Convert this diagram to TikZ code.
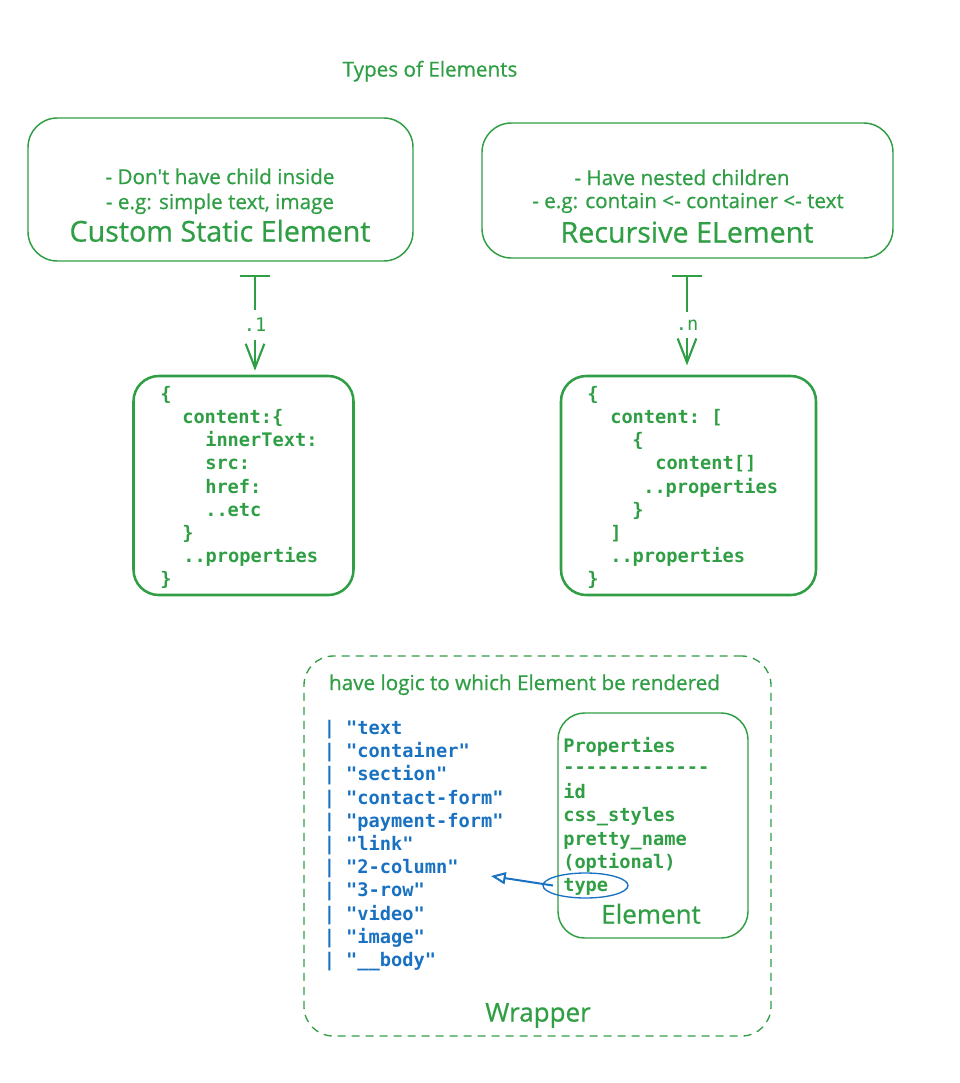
\documentclass[tikz,border=0pt]{standalone}
\usepackage{fontspec}
\setmainfont{Open Sans}
\setmonofont{DejaVu Sans Mono}
\newfontfamily\handfont{Open Sans}[FakeBold=0.7]
\usetikzlibrary{arrows.meta,shapes.geometric,calc}
\definecolor{exgreen}{HTML}{2F9E44}
\definecolor{exblue}{HTML}{1971C2}
\begin{document}
\begin{tikzpicture}[x=0.75pt,y=-0.75pt,
  hand/.style={text=exgreen,inner sep=0pt,anchor=mid,font=\fontsize{15.5pt}{18pt}\handfont},
  handbig/.style={text=exgreen,inner sep=0pt,anchor=mid,font=\fontsize{21.5pt}{24pt}\handfont},
  handmid/.style={text=exgreen,inner sep=0pt,anchor=mid,font=\fontsize{19.5pt}{22pt}\handfont},
  codeline/.style={text=exgreen,inner sep=0pt,anchor=mid west,font=\fontsize{14pt}{17pt}\selectfont\ttfamily\bfseries},
  blueline/.style={codeline,text=exblue},
  thinbox/.style={draw=exgreen,line width=1.1pt,rounded corners=22pt,inner sep=0pt},
  codebox/.style={draw=exgreen,line width=1.9pt,rounded corners=19pt,inner sep=0pt},
  wrapbox/.style={draw=exgreen,line width=1pt,rounded corners=22pt,inner sep=0pt,dash pattern=on 6pt off 4.5pt},
  teearrow/.style={draw=exgreen,line width=1.6pt,arrows={Bar[width=22pt]-Straight Barb[length=18pt,width=14pt]}},
  arrowlabel/.style={fill=white,text=exgreen,inner xsep=2pt,inner ysep=6pt,font=\fontsize{14pt}{17pt}\selectfont\ttfamily},
]
\useasboundingbox (0,0) rectangle (960,1083);

% title
\node[hand] (title) at (430,73) {Types of Elements};

% top boxes
\node[thinbox,minimum width=288.75pt,minimum height=107.25pt] (box1) at (220.5,189.5) {};
\node[hand] (b1l1) at (220,180.5) {- Don't have child inside};
\node[hand] (b1l2) at (220,205.5) {- e.g: simple text, image};
\node[handbig] (b1t) at (220,238) {Custom Static Element};

\node[thinbox,minimum width=308.25pt,minimum height=101.25pt] (box2) at (687.5,190.5) {};
\node[hand] (b2l1) at (682,181.5) {- Have nested children};
\node[hand] (b2l2) at (688,204.5) {- e.g: contain <- container <- text};
\node[handbig] (b2t) at (687,239) {Recursive ELement};

% code boxes
\node[codebox,minimum width=165pt,minimum height=164.25pt] (box3) at (243.5,485.5) {};
\node[codeline] (c3a) at (160,397) {\{};
\node[codeline] (c3b) at (182,420) {content:\{};
\node[codeline] (c3c) at (205,443) {innerText:};
\node[codeline] (c3d) at (205,466) {src:};
\node[codeline] (c3e) at (205,489.5) {href:};
\node[codeline] (c3f) at (205,512.5) {..etc};
\node[codeline] (c3g) at (182,535.5) {\}};
\node[codeline] (c3h) at (183,559) {..properties};
\node[codeline] (c3i) at (160,581.5) {\}};

\node[codebox,minimum width=191.25pt,minimum height=164.25pt] (box4) at (688.5,485.5) {};
\node[codeline] (c4a) at (587,397) {\{};
\node[codeline] (c4b) at (610,420) {content: [};
\node[codeline] (c4c) at (632,443) {\{};
\node[codeline] (c4d) at (655,466) {content[]};
\node[codeline] (c4e) at (643,489.5) {..properties};
\node[codeline] (c4f) at (632,512.5) {\}};
\node[codeline] (c4g) at (610,535.5) {]};
\node[codeline] (c4h) at (610,559) {..properties};
\node[codeline] (c4i) at (587,581.5) {\}};

% tee arrows
\coordinate (t1) at (255,275);
\draw[teearrow,shorten >=3pt] (t1) -- (t1 |- box3.north) node[arrowlabel,midway] (l1) {.1};
\coordinate (t2) at (687,275);
\draw[teearrow,shorten >=7pt] (t2) -- (t2 |- box4.north) node[arrowlabel,midway] (l2) {.n};

% wrapper
\node[wrapbox,minimum width=350.25pt,minimum height=285pt] (wrap) at (537.5,846) {};
\node[hand] (wrapnote) at (524.5,686.5) {have logic to which Element be rendered};
\node[handmid] (wraptitle) at (538,1018) {Wrapper};

% blue list
\node[blueline] (v1) at (323.5,731) {| "text};
\node[blueline] (v2) at (323.5,754.2) {| "container"};
\node[blueline] (v3) at (323.5,777.4) {| "section"};
\node[blueline] (v4) at (323.5,800.6) {| "contact-form"};
\node[blueline] (v5) at (323.5,823.8) {| "payment-form"};
\node[blueline] (v6) at (323.5,847) {| "link"};
\node[blueline] (v7) at (323.5,870.2) {| "2-column"};
\node[blueline] (v8) at (323.5,893.4) {| "3-row"};
\node[blueline] (v9) at (323.5,916.6) {| "video"};
\node[blueline] (v10) at (323.5,939.8) {| "image"};
\node[blueline] (v11) at (323.5,963) {| "\_\_body"};

% element box
\node[thinbox,rounded corners=20pt,minimum width=142.5pt,minimum height=168.75pt] (elem) at (653,825.5) {};
\node[codeline] (p1) at (563,749) {Properties};
\node[codeline] (p2) at (563,770) {-------------};
\node[codeline] (p3) at (563,795) {id};
\node[codeline] (p4) at (563,818) {css\_styles};
\node[codeline] (p5) at (563,841.5) {pretty\_name};
\node[codeline] (p6) at (563,865) {(optional)};
\node[codeline] (p7) at (563,888) {type};
\node[handmid] (elemtitle) at (651,920) {Element};

% type highlight
\node[ellipse,draw=exblue,line width=1pt,minimum width=63.75pt,minimum height=18.75pt,inner sep=0pt] (typeoval) at (585.5,885.5) {};
\coordinate (btip) at (491,876);
\draw[exblue,line width=1.5pt,-{Triangle[open,length=11pt,width=9pt]}] ([xshift=8pt]typeoval.west) -- (btip);
\end{tikzpicture}
\end{document}
